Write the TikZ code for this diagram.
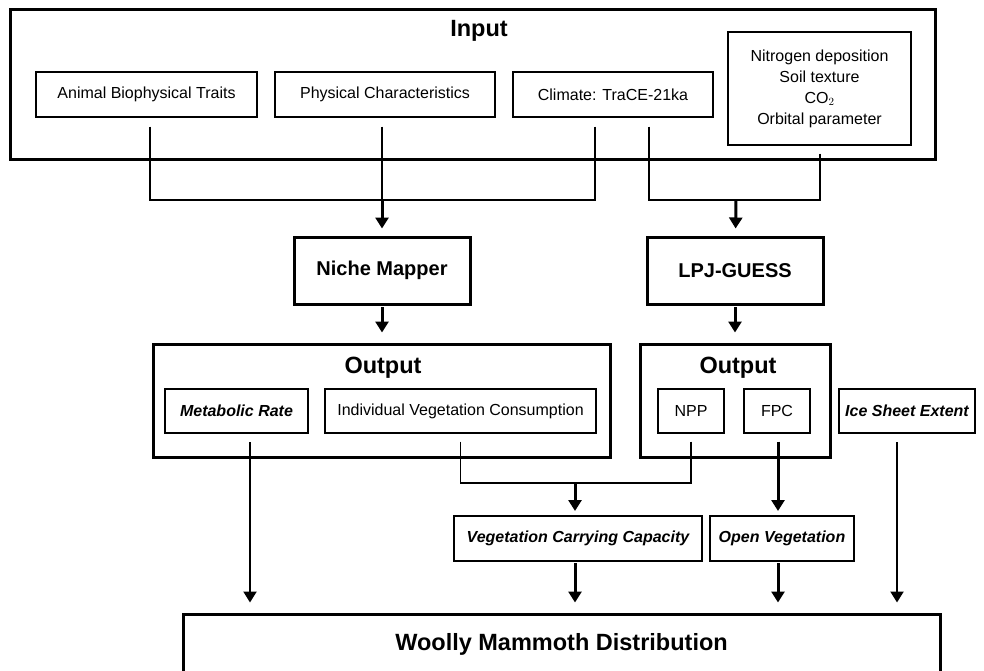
\documentclass[tikz,border=0pt]{standalone}
\usepackage{fontspec}
\setmainfont{Liberation Sans}
\usepackage{tikz}
\usetikzlibrary{arrows.meta,positioning}

\begin{document}
\begin{tikzpicture}[
    x=1pt,
    y=-1pt,
    >={Triangle[length=11pt,width=13pt]},
    framebox/.style={
        draw,
        rectangle,
        line width=3pt,
        inner sep=0pt
    },
    modelbox/.style={
        framebox,
        font=\fontsize{20}{24}\selectfont\bfseries
    },
    itembox/.style={
        draw,
        rectangle,
        line width=1.2pt,
        inner sep=0pt,
        align=center,
        font=\fontsize{16}{19}\selectfont
    },
    keybox/.style={
        itembox,
        line width=2pt,
        font=\fontsize{16}{19}\selectfont\bfseries\itshape
    },
    boxtitle/.style={
        anchor=base,
        inner sep=0pt,
        font=\fontsize{23.5}{28}\selectfont\bfseries
    },
    link/.style={
        line width=1.2pt
    },
    flow/.style={
        ->,
        line width=3pt
    },
    thinflow/.style={
        ->,
        line width=2.2pt
    }
]

\clip (0,0) rectangle (984,671);
\fill[white] (0,0) rectangle (984,671);

% ============================================================
% Input
% ============================================================
\node[framebox, minimum width=925pt, minimum height=150pt] (input) at (472.5,85) {};
\node[boxtitle] (input-title) at (479,37) {Input};

\node[itembox, minimum width=221pt, minimum height=45pt] (in-animal) at (146.5,94.5)
    {Animal Biophysical Traits};
\node[itembox, minimum width=220pt, minimum height=45pt] (in-phys)   at (385,94.5)
    {Physical Characteristics};
\node[itembox, minimum width=200pt, minimum height=45pt] (in-clim)   at (613,94.5)
    {Climate: TraCE-21ka};
\node[itembox, minimum width=183pt, minimum height=113pt, font=\fontsize{16}{21}\selectfont]
    (in-other) at (819.5,88.5)
    {Nitrogen deposition\\Soil texture\\CO$_{2}$\\Orbital parameter};

% ============================================================
% Models
% ============================================================
\node[modelbox, minimum width=176pt, minimum height=67pt] (niche) at (382,270.5) {Niche Mapper};
\node[modelbox, minimum width=176pt, minimum height=67pt] (lpj)   at (735,270.5) {LPJ-GUESS};

% junctions under the input box
\coordinate (niche-in) at (382,200);
\coordinate (lpj-in)   at (736,200);

% Niche Mapper inputs
\draw[link] ([xshift=3.5pt]in-animal.south) ++(0,9) |- (niche-in);
\draw[link] ([xshift=-3pt]in-phys.south) ++(0,9) -- ++(0,74);
\draw[link] ([xshift=-18pt]in-clim.south) ++(0,9) |- (niche-in);
\draw[flow, shorten >=7pt] (niche-in) -- (niche);

% LPJ-GUESS inputs
\draw[link] ([xshift=36pt]in-clim.south) ++(0,9) |- (lpj-in);
\draw[link] ([xshift=0.5pt]in-other.south) ++(0,8) |- (lpj-in);
\draw[flow, shorten >=7pt] (lpj-in) -- (lpj);

% ============================================================
% Outputs
% ============================================================
\node[framebox, minimum width=457pt, minimum height=113pt] (out-niche) at (381.5,400.5) {};
\node[boxtitle] (out-niche-title) at (383,373) {Output};
\node[framebox, minimum width=190pt, minimum height=113pt] (out-lpj) at (735,400.5) {};
\node[boxtitle] (out-lpj-title) at (738,373) {Output};

\draw[flow, shorten <=1.5pt, shorten >=10pt] (niche) -- (niche |- out-niche.north);
\draw[flow, shorten <=1.5pt, shorten >=10pt] (lpj) -- (lpj |- out-lpj.north);

\node[keybox,  minimum width=143pt, minimum height=44pt] (metab) at (236.5,411) {Metabolic Rate};
\node[itembox, minimum width=271pt, minimum height=44pt] (indiv) at (460.5,411)
    {Individual Vegetation Consumption};
\node[itembox, minimum width=66pt,  minimum height=44pt] (npp)   at (691,411) {NPP};
\node[itembox, minimum width=66pt,  minimum height=44pt] (fpc)   at (777,411) {FPC};
\node[keybox,  minimum width=136pt, minimum height=44pt] (ice)   at (907,411) {Ice Sheet Extent};

% ============================================================
% Derived layers
% ============================================================
\node[keybox, minimum width=248pt, minimum height=45pt] (vcc)   at (578,538.5)
    {Vegetation Carrying Capacity};
\node[keybox, minimum width=144pt, minimum height=45pt] (openv) at (782,538.5)
    {Open Vegetation};

\coordinate (vcc-in) at (575,483);

\draw[link] (indiv.south) ++(0,8) |- (vcc-in);
\draw[link] (npp.south) ++(0,8) |- (vcc-in);
\draw[flow, shorten >=4pt] (vcc-in) -- (vcc-in |- vcc.north);
\draw[flow, shorten <=8pt, shorten >=4pt] ([xshift=1pt]fpc.south) -- ([xshift=-4pt]openv.north);

% ============================================================
% Woolly mammoth distribution
% ============================================================
\node[framebox, minimum width=757pt, minimum height=60pt,
      font=\fontsize{23.5}{28}\selectfont\bfseries] (woolly) at (561.5,644)
    {Woolly Mammoth Distribution};

\draw[thinflow, shorten <=8pt, shorten >=10pt] ([xshift=13.5pt]metab.south) -- ([xshift=13.5pt]metab.south |- woolly.north);
\draw[flow, shorten <=1pt, shorten >=10pt] (vcc-in |- vcc.south) -- (vcc-in |- woolly.north);
\draw[flow, shorten <=1pt, shorten >=10pt] ([xshift=-4pt]openv.south) -- ([xshift=-4pt]openv.south |- woolly.north);
\draw[thinflow, shorten <=8pt, shorten >=10pt] ([xshift=-10pt]ice.south) -- ([xshift=-10pt]ice.south |- woolly.north);

\end{tikzpicture}
\end{document}
